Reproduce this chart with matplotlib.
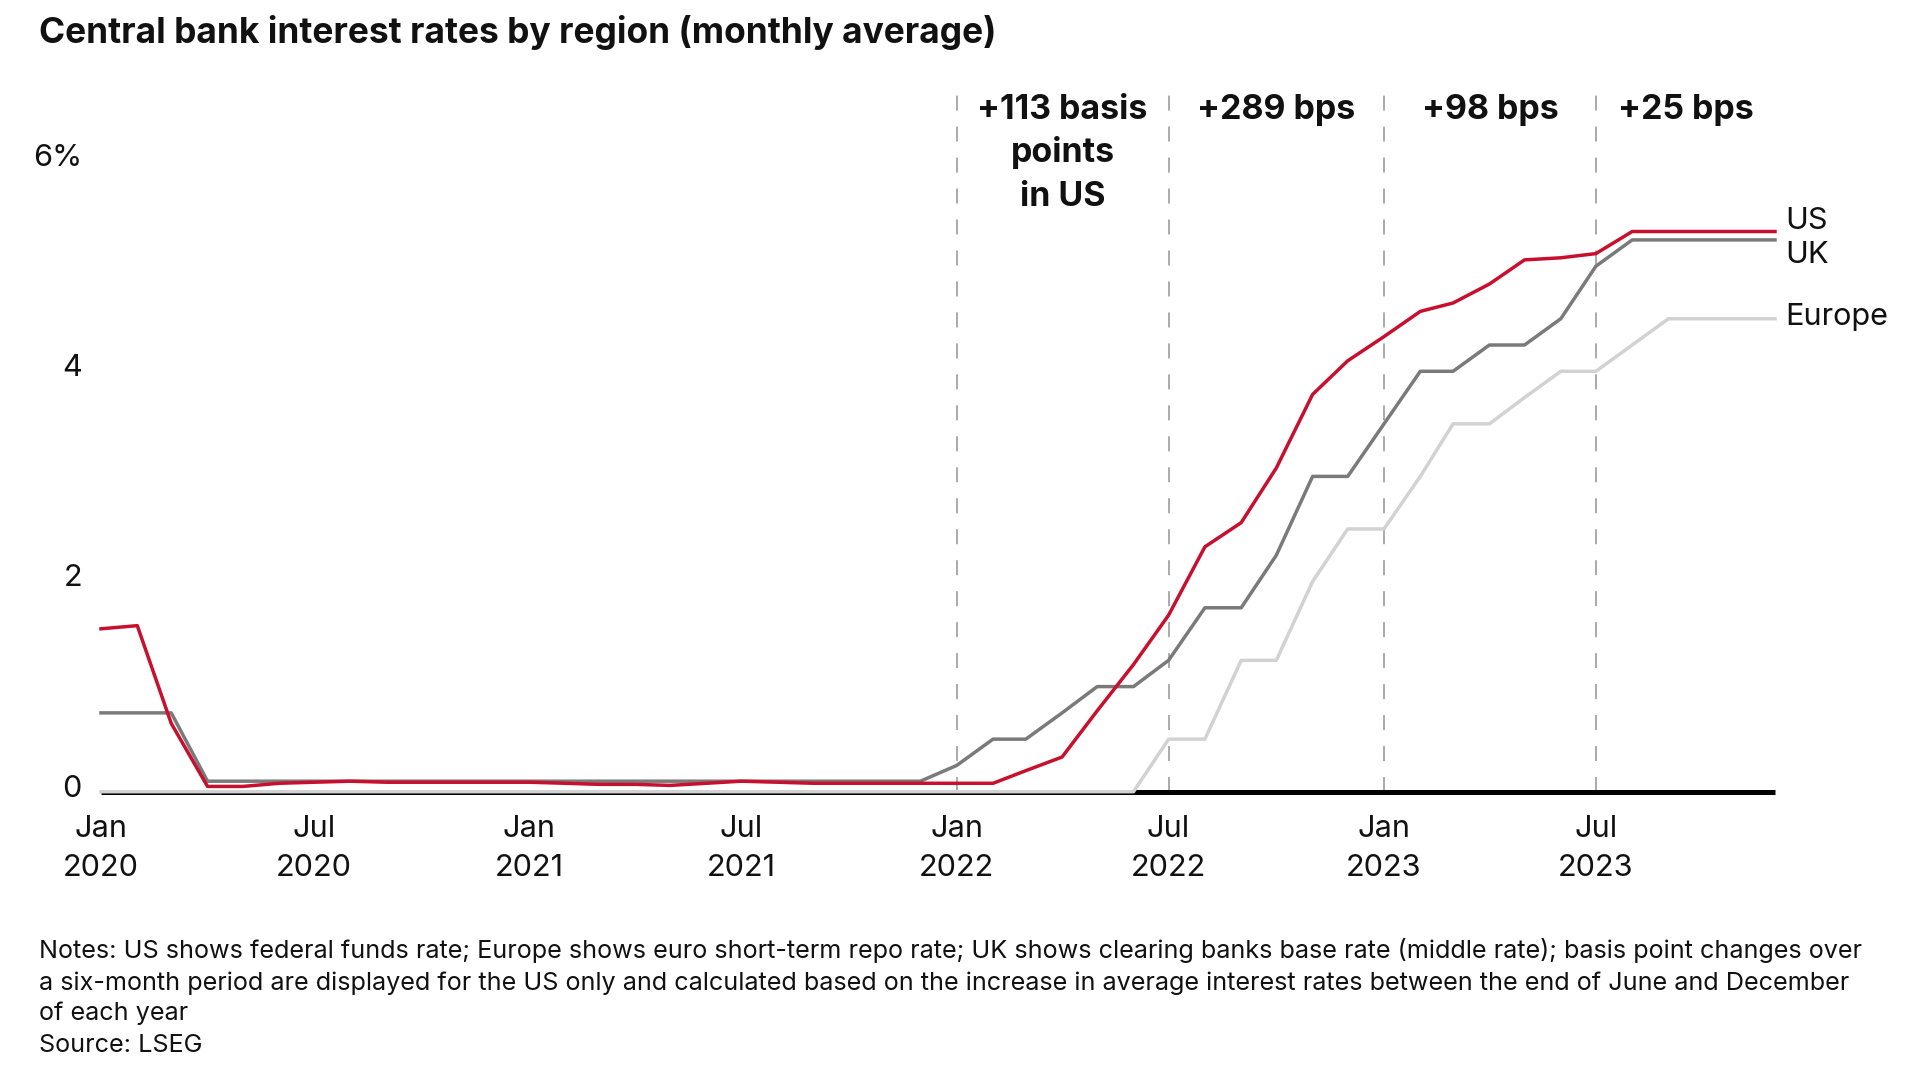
import matplotlib
matplotlib.use("Agg")
import matplotlib.pyplot as plt
import matplotlib.transforms as mtrans
import pandas as pd

# ---------------- data ----------------
months = pd.date_range("2020-01-01", periods=48, freq="MS")

us = [1.55, 1.58, 0.65, 0.05, 0.05, 0.08, 0.09, 0.10, 0.09, 0.09, 0.09, 0.09,
      0.09, 0.08, 0.07, 0.07, 0.06, 0.08, 0.10, 0.09, 0.08, 0.08, 0.08, 0.08,
      0.08, 0.08, 0.20, 0.33, 0.77, 1.21, 1.68, 2.33, 2.56, 3.08, 3.78, 4.10,
      4.33, 4.57, 4.65, 4.83, 5.06, 5.08, 5.12, 5.33, 5.33, 5.33, 5.33, 5.33]

uk = [0.75, 0.75, 0.75, 0.10, 0.10, 0.10, 0.10, 0.10, 0.10, 0.10, 0.10, 0.10,
      0.10, 0.10, 0.10, 0.10, 0.10, 0.10, 0.10, 0.10, 0.10, 0.10, 0.10, 0.10,
      0.25, 0.50, 0.50, 0.75, 1.00, 1.00, 1.25, 1.75, 1.75, 2.25, 3.00, 3.00,
      3.50, 4.00, 4.00, 4.25, 4.25, 4.50, 5.00, 5.25, 5.25, 5.25, 5.25, 5.25]

europe = [0.0] * 24 + [0.0, 0.0, 0.0, 0.0, 0.0, 0.0, 0.50, 0.50, 1.25, 1.25, 2.00, 2.50,
                       2.50, 3.00, 3.50, 3.50, 3.75, 4.00, 4.00, 4.25, 4.50, 4.50, 4.50, 4.50]

series_names = ["US", "UK", "Europe"]

period_dates = pd.to_datetime(["2022-01-01", "2022-07-01", "2023-01-01", "2023-07-01"])
period_labels = ["+113 basis\npoints\nin US", "+289 bps", "+98 bps", "+25 bps"]

ytick_vals = [0, 2, 4, 6]
ytick_labels = ["0", "2", "4", "6%"]

xtick_dates = pd.to_datetime(["2020-01-01", "2020-07-01", "2021-01-01", "2021-07-01",
                              "2022-01-01", "2022-07-01", "2023-01-01", "2023-07-01"])
xtick_month = ["Jan", "Jul", "Jan", "Jul", "Jan", "Jul", "Jan", "Jul"]
xtick_year = ["2020", "2020", "2021", "2021", "2022", "2022", "2023", "2023"]

title = "Central bank interest rates by region (monthly average)"
notes = ["Notes: US shows federal funds rate; Europe shows euro short-term repo rate; UK shows clearing banks base rate (middle rate); basis point changes over",
         "a six-month period are displayed for the US only and calculated based on the increase in average interest rates between the end of June and December",
         "of each year",
         "Source: LSEG"]

# ---------------- style ----------------
FONT = ["Inter", "DejaVu Sans"]
plt.rcParams["font.family"] = FONT
plt.rcParams["lines.scale_dashes"] = False

RED = "#C8102E"
UKGREY = "#7A7A7A"
EUGREY = "#D2D2D2"
DASH = "#9C9C9C"
TXT = "#111111"

W, H = 1920, 1080
fig = plt.figure(figsize=(19.2, 10.8), dpi=100)
fig.patch.set_facecolor("white")

def fx(p):
    return p / W

def fy(p):
    return 1 - p / H

left_px, right_px = 101, 1775
zero_px, top_px = 791.7, 89
px_per_unit = 105.1
ytop = (zero_px - top_px) / px_per_unit

ax = fig.add_axes([fx(left_px), fy(zero_px), fx(right_px - left_px), (zero_px - top_px) / H])
ax.set_xlim(months[0], months[-1])
ax.set_ylim(0, ytop)
ax.axis("off")

# dashed period separators
for d in period_dates:
    ax.plot([d, d], [0, ytop], color=DASH, lw=1.2, dashes=(10.8, 11.5), zorder=1, clip_on=False)

# baseline
ax.plot([months[0], months[-1]], [0, 0], color="black", lw=3.6, solid_capstyle="butt", zorder=2, clip_on=False)

# series
LW = 2.5
ax.plot(months, europe, color=EUGREY, lw=LW, zorder=3, clip_on=False)
ax.plot(months, uk, color=UKGREY, lw=LW, zorder=4, clip_on=False)
ax.plot(months, us, color=RED, lw=LW, zorder=5, clip_on=False)

renderer = fig.canvas.get_renderer()

def fit(t, target_w):
    bb = t.get_window_extent(renderer)
    t.set_fontsize(t.get_fontsize() * target_w / bb.width)

# tick label font size from "2020" width
probe = fig.text(0, 0, "2020", fontsize=22)
fit(probe, 76)
TICK_FS = probe.get_fontsize()
probe.remove()

bt_x = mtrans.blended_transform_factory(ax.transData, fig.transFigure)
bt_y = mtrans.blended_transform_factory(fig.transFigure, ax.transData)
bt_y_off = mtrans.offset_copy(bt_y, fig=fig, x=0, y=-5, units="dots")

for v, lab in zip(ytick_vals, ytick_labels):
    ax.text(fx(82), v, lab, transform=bt_y_off, ha="right", va="baseline",
            fontsize=TICK_FS, color=TXT, clip_on=False)

for d, m, yv in zip(xtick_dates, xtick_month, xtick_year):
    ax.text(d, fy(837), m, transform=bt_x, ha="center", va="baseline", fontsize=TICK_FS, color=TXT)
    ax.text(d, fy(876), yv, transform=bt_x, ha="center", va="baseline", fontsize=TICK_FS, color=TXT)

# series labels
label_offsets = {"US": 2.5, "UK": -22.7, "Europe": -6}
for name, vals in zip(series_names, [us, uk, europe]):
    ax.annotate(name, xy=(months[-1], vals[-1]), xytext=(10, label_offsets[name]),
                textcoords="offset pixels", ha="left", va="baseline",
                fontsize=TICK_FS, color=TXT, annotation_clip=False)

# period annotations
ends = list(period_dates[1:]) + [months[-1]]
probe = fig.text(0, 0, "+113 basis", fontsize=20, fontweight="bold")
fit(probe, 171)
ANN_FS = probe.get_fontsize()
probe.remove()
for start, end, lab in zip(period_dates, ends, period_labels):
    mid = start + (end - start) / 2
    for i, line in enumerate(lab.split("\n")):
        ax.text(mid, fy(118.7 + 43.5 * i), line, transform=bt_x, ha="center", va="baseline",
                fontsize=ANN_FS, fontweight="bold", color=TXT)

# title
t = fig.text(fx(39), fy(43.5), title, fontsize=25, fontweight="bold", color=TXT, va="baseline", ha="left")
fit(t, 955)

# notes
note_base = [958, 990, 1020, 1052]
nt = fig.text(fx(39), fy(note_base[0]), notes[0], fontsize=16, color=TXT, va="baseline", ha="left")
fit(nt, 1826)
NOTE_FS = nt.get_fontsize()
for line, b in zip(notes[1:], note_base[1:]):
    fig.text(fx(39), fy(b), line, fontsize=NOTE_FS, color=TXT, va="baseline", ha="left")

fig.savefig("out.png", dpi=100, facecolor="white")
